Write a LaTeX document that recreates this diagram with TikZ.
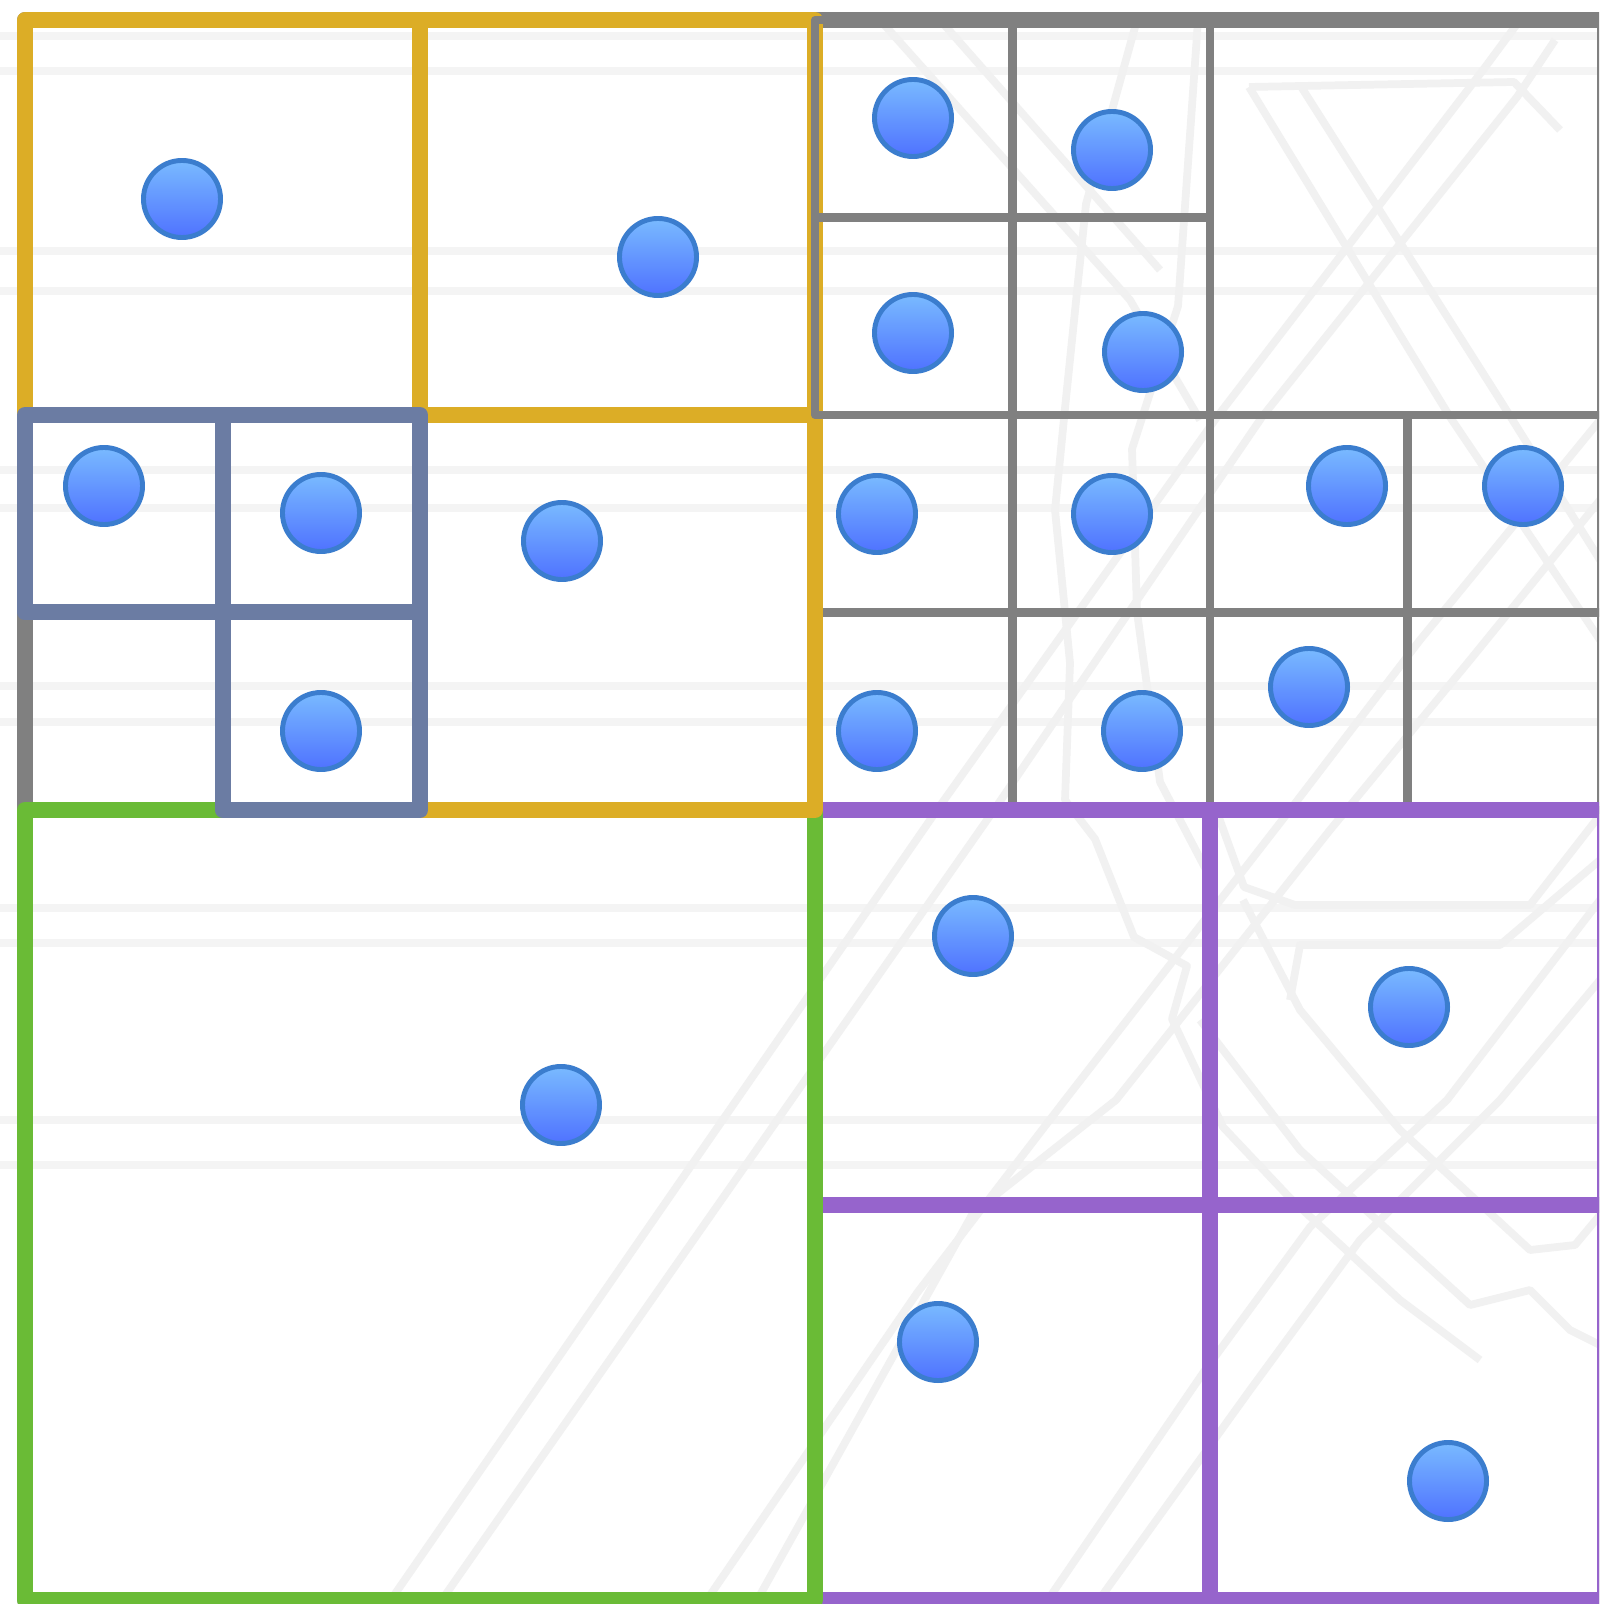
\documentclass[tikz,border=0pt]{standalone}
\usepackage{tikz}
\definecolor{rootgray}{HTML}{808080}
\definecolor{nwgold}{HTML}{DCAD26}
\definecolor{nwsub}{HTML}{6B7CA3}
\definecolor{swgreen}{HTML}{6ABB36}
\definecolor{sepurple}{HTML}{9664CC}
\definecolor{ptedge}{HTML}{3B7DCE}
\definecolor{pttop}{HTML}{79BAFF}
\definecolor{ptbot}{HTML}{4F72FF}
\definecolor{bgroad}{HTML}{F1F1F1}
\definecolor{bgrule}{HTML}{F4F4F4}
\tikzset{
  quad/.style    = {line width=4.55pt,line join=round},
  subquad/.style = {draw=rootgray,line width=2.3pt,line join=round},
  pt/.style      = {circle,draw=ptedge,line width=1.4pt,top color=pttop,
                    bottom color=ptbot,minimum size=7.7mm,inner sep=0pt},
  road/.style    = {draw=bgroad,line width=2.2pt,line join=round},
  rule/.style    = {draw=bgrule,line width=2.3pt},
}

\begin{document}
\begin{tikzpicture}[x=0.01cm,y=-0.01cm]
  \useasboundingbox (0,0) rectangle (1599,1604);
  \clip (0,0) rectangle (1599,1604);
  \fill[white] (0,0) rectangle (1599,1604);

  % Faint map behind the tree
  \foreach \y in {36,71,251,291,470,508,686,722,908,943,1120,1165}
    \draw[rule] (0,\y) -- (1599,\y);
  \draw[road] (388,1604) -- (937,810) -- (1217,417) -- (1483,70) -- (1520,20);
  \draw[road] (439,1604) -- (994,810) -- (1262,417) -- (1517,97) -- (1555,40);
  \draw[road] (704,1604) -- (917,1293) -- (1065,1100) -- (1290,810) -- (1420,640) -- (1600,420);
  \draw[road] (755,1604) -- (973,1213) -- (1116,1100) -- (1330,830) -- (1470,660) -- (1600,500);
  \draw[road] (1045,1604) -- (1203,1373) -- (1310,1227) -- (1447,1100) -- (1600,900);
  \draw[road] (1096,1604) -- (1250,1390) -- (1360,1240) -- (1500,1100) -- (1600,980);
  \draw[road] (1249,87) -- (1514,82) -- (1560,130);
  \draw[road] (1249,87) -- (1450,417) -- (1600,640);
  \draw[road] (1300,85) -- (1500,400) -- (1600,560);
  \draw[road] (880,20) -- (1130,300) -- (1200,420);
  \draw[road] (940,20) -- (1160,270);
  \draw[road] (1137,20) -- (1086,204) -- (1065,408) -- (1055,510) -- (1070,663)
              -- (1065,800) -- (1095,839) -- (1134,937) -- (1187,966) -- (1172,1019)
              -- (1223,1127) -- (1290,1198) -- (1400,1300) -- (1480,1360);
  \draw[road] (1198,20) -- (1178,306) -- (1132,449) -- (1137,612) -- (1160,782)
              -- (1214,885);
  \draw[road] (1218,815) -- (1244,887) -- (1295,905) -- (1530,905) -- (1600,815);
  \draw[road] (1290,1000) -- (1300,945) -- (1500,945) -- (1600,860);
  \draw[road] (1243,900) -- (1300,1010) -- (1400,1130) -- (1530,1250) -- (1575,1245)
              -- (1600,1215);
  \draw[road] (1200,1020) -- (1300,1150) -- (1470,1305) -- (1530,1290) -- (1570,1330)
              -- (1600,1345);

  % Root cell
  \draw[quad,draw=rootgray] (25,20) rectangle (1605,1600);

  % NE quadrant, lower half (gray)
  \draw[subquad] (815,415) rectangle (1605,810);
  \draw[subquad] (1210,20) -- (1210,810);
  \draw[subquad] (1012.5,415) -- (1012.5,810);
  \draw[subquad] (1407.5,415) -- (1407.5,810);
  \draw[subquad] (815,612.5) -- (1605,612.5);

  % SE quadrant
  \draw[quad,draw=sepurple] (815,810) rectangle (1605,1600);
  \draw[quad,draw=sepurple] (1210,810) -- (1210,1600);
  \draw[quad,draw=sepurple] (815,1205) -- (1605,1205);

  % SW quadrant
  \draw[quad,draw=swgreen] (25,810) rectangle (815,1600);

  % NW quadrant
  \draw[quad,draw=nwgold] (25,20) rectangle (420,415);
  \draw[quad,draw=nwgold] (420,20) rectangle (815,415);
  \draw[quad,draw=nwgold] (420,415) rectangle (815,810);

  % NE quadrant, upper left cell
  \draw[subquad] (815,20) rectangle (1210,415);
  \draw[subquad] (1012.5,20) -- (1012.5,415);
  \draw[subquad] (815,217.5) -- (1210,217.5);

  % NW-SW children
  \draw[quad,draw=nwsub] (25,415) rectangle (222.5,612.5);
  \draw[quad,draw=nwsub] (222.5,415) rectangle (420,612.5);
  \draw[quad,draw=nwsub] (222.5,612.5) rectangle (420,810);

  % Points
  \foreach \x/\y [count=\i] in {182/199, 658/257, 104/486, 321/513, 321/731,
                                562/541, 913/118, 1112/150, 913/333, 1143/352,
                                877/514, 1112/514, 1347/486, 1523/486, 877/731,
                                1142/731, 1309/687, 561/1105, 973/936, 1409/1007,
                                938/1342, 1448/1481}
    \node[pt] (p\i) at (\x,\y) {};
\end{tikzpicture}
\end{document}
